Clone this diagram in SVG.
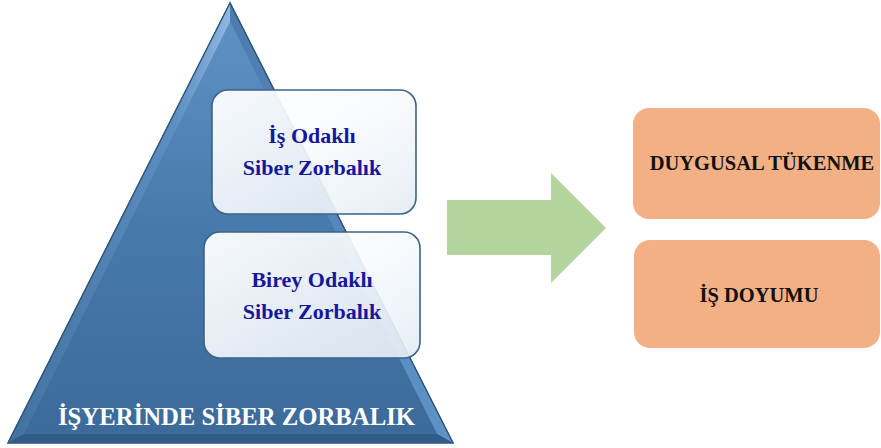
<svg xmlns="http://www.w3.org/2000/svg" width="881" height="448" viewBox="0 0 881 448">
  <defs>
    <linearGradient id="pyrFill" x1="0" y1="0" x2="0" y2="1">
      <stop offset="0" stop-color="#5f91c5"/>
      <stop offset="0.5" stop-color="#4779ab"/>
      <stop offset="1" stop-color="#3c6b9a"/>
    </linearGradient>
    <linearGradient id="bevelLeft" x1="0" y1="0" x2="1" y2="0">
      <stop offset="0" stop-color="#41719f"/>
      <stop offset="0.75" stop-color="#5d8ec2"/>
      <stop offset="1" stop-color="#8fb8e2"/>
    </linearGradient>
    <linearGradient id="bevelRight" x1="0" y1="0" x2="0" y2="1">
      <stop offset="0" stop-color="#4a7cb0"/>
      <stop offset="1" stop-color="#5f93c8"/>
    </linearGradient>
    <linearGradient id="glass" x1="0" y1="0" x2="1" y2="1">
      <stop offset="0" stop-color="#ffffff" stop-opacity="0.95"/>
      <stop offset="0.55" stop-color="#f6f9fc" stop-opacity="0.9"/>
      <stop offset="1" stop-color="#e3ecf4" stop-opacity="0.92"/>
    </linearGradient>
    <style>
      .pyr-text { font-family: "Liberation Serif", "Times New Roman", serif; font-weight: bold; }
      .level { fill: url(#glass); stroke: #3a6389; stroke-width: 1.6; }
      .level-label { fill: #17179b; font-size: 22px; text-anchor: middle; }
      .base-label { fill: #ffffff; font-size: 25px; }
      .outcome { fill: #f3b084; }
      .outcome-label { font-family: "Liberation Serif", "Times New Roman", serif; font-weight: bold; font-size: 20.5px; fill: #111111; text-anchor: middle; }
      .flow { fill: #b1d59d; }
    </style>
  </defs>

  <!-- bevelled pyramid -->
  <g id="pyramid">
    <polygon points="230,3 8,443 453,443" fill="url(#pyrFill)" stroke="#2e5378" stroke-width="1.5"/>
    <polygon points="230,3 8,443 24,434 230,22" fill="url(#bevelLeft)"/>
    <polygon points="230,3 230,22 437,434 453,443" fill="url(#bevelRight)"/>
    <polygon points="8,443 453,443 437,434 24,434" fill="#305b87"/>
    <polygon points="24,434 230,22 437,434" fill="url(#pyrFill)"/>
    <polyline points="8,443 230,3 453,443" fill="none" stroke="#2e5378" stroke-width="1.2"/>
    <text class="pyr-text base-label" x="58" y="425" textLength="357" lengthAdjust="spacingAndGlyphs">İŞYERİNDE SİBER ZORBALIK</text>
  </g>

  <g id="work-focused">
    <rect class="level" x="212" y="90" width="204" height="124" rx="16"/>
    <text class="pyr-text level-label" x="312" y="143">İş Odaklı</text>
    <text class="pyr-text level-label" x="312" y="175">Siber Zorbalık</text>
  </g>

  <g id="person-focused">
    <rect class="level" x="204" y="232" width="216" height="126" rx="16"/>
    <text class="pyr-text level-label" x="312" y="287">Birey Odaklı</text>
    <text class="pyr-text level-label" x="312" y="319">Siber Zorbalık</text>
  </g>

  <!-- block arrow linking the pyramid to the outcomes -->
  <g id="connectors">
    <polygon class="flow" points="447,200 551,200 551,173 606,228 551,283 551,255 447,255"/>
  </g>

  <g id="emotional-exhaustion">
    <rect class="outcome" x="633" y="108" width="247" height="111" rx="16"/>
    <text class="outcome-label" x="762" y="170">DUYGUSAL TÜKENME</text>
  </g>

  <g id="job-satisfaction">
    <rect class="outcome" x="634" y="240" width="246" height="108" rx="16"/>
    <text class="outcome-label" x="759" y="302">İŞ DOYUMU</text>
  </g>
</svg>
